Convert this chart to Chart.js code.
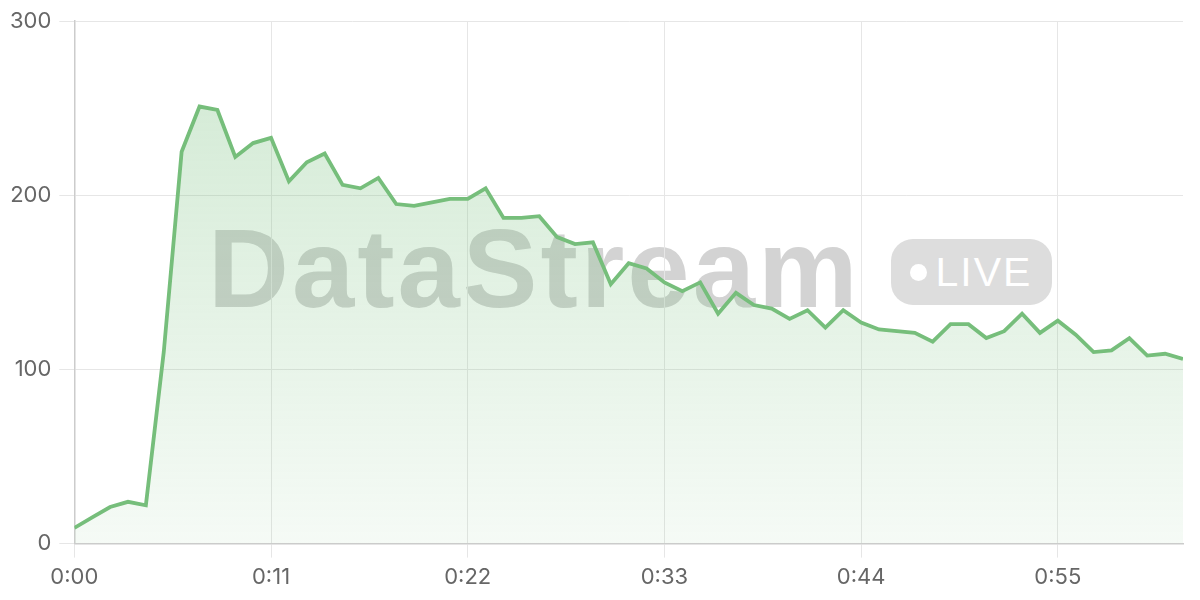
<!DOCTYPE html>
<html lang="en">
<head>
  <meta charset="UTF-8">
  <title>DataStream live</title>
  <script src="https://cdn.jsdelivr.net/npm/chart.js"></script>
  <style>
    html, body {
      margin: 0;
      padding: 0;
      background: #fff;
    }
    #wrap {
      position: relative;
      width: 1200px;
      height: 600px;
    }
    /* watermark sits behind the transparent canvas */
    #mark {
      position: absolute;
      left: 208px;
      top: 204px;
      display: flex;
      align-items: center;
      font-family: "Liberation Sans", Arial, sans-serif;
      pointer-events: none;
    }
    #mark .name {
      font-size: 112px;
      font-weight: bold;
      letter-spacing: 3px;
      color: #d3d3d3;
      line-height: 130px;
    }
    #mark .live {
      margin-left: 30px;
      margin-top: 6px;
      width: 161px;
      height: 66px;
      border-radius: 22px;
      background: #dddddd;
      color: #fff;
      font-size: 41px;
      letter-spacing: 2px;
      display: flex;
      align-items: center;
      justify-content: center;
    }
    #mark .dot {
      width: 17px;
      height: 17px;
      border-radius: 50%;
      background: #fff;
      margin-right: 9px;
    }
    canvas {
      position: relative;
    }
  </style>
</head>
<body>
  <div id="wrap">
    <div id="mark"><span class="name">DataStream</span><span class="live"><span class="dot"></span>LIVE</span></div>
    <canvas id="streamChart" width="1200" height="600"></canvas>
  </div>

  <script>
    // one sample per second, 0:00 .. 1:02
    const values = [
      9, 15, 21, 24, 22, 110, 225, 251, 249, 222,
      230, 233, 208, 219, 224, 206, 204, 210, 195, 194,
      196, 198, 198, 204, 187, 187, 188, 176, 172, 173,
      149, 161, 158, 150, 145, 150, 132, 144, 137, 135,
      129, 134, 124, 134, 127, 123, 122, 121, 116, 126,
      126, 118, 122, 132, 121, 128, 120, 110, 111, 118,
      108, 109, 106
    ];
    const yTicks = [0, 100, 200, 300];
    const tickStep = 11; // seconds between x labels

    const lineColor = 'rgb(118, 190, 123)';

    function fmtTime(sec) {
      const m = Math.floor(sec / 60);
      const s = sec % 60;
      return m + ':' + String(s).padStart(2, '0');
    }

    const ctx = document.getElementById('streamChart').getContext('2d');
    const streamChart = new Chart(ctx, {
      type: 'line',
      data: {
        datasets: [{
          data: values.map((v, i) => ({ x: i, y: v })),
          borderColor: lineColor,
          borderWidth: 3.8,
          pointRadius: 0,
          tension: 0,
          fill: 'origin',
          backgroundColor: function(context) {
            const area = context.chart.chartArea;
            if (!area) return 'rgba(116, 190, 122, 0.2)';
            const g = context.chart.ctx.createLinearGradient(0, area.top, 0, area.bottom);
            g.addColorStop(0, 'rgba(116, 190, 122, 0.34)');
            g.addColorStop(1, 'rgba(116, 190, 122, 0.07)');
            return g;
          }
        }]
      },
      options: {
        responsive: false,
        animation: false,
        layout: {
          padding: { top: 8, right: 17, left: 2, bottom: 2 }
        },
        plugins: {
          legend: { display: false },
          tooltip: { enabled: false }
        },
        scales: {
          x: {
            type: 'linear',
            min: 0,
            max: values.length - 1,
            grid: {
              color: '#e6e6e6',
              tickLength: 14,
              lineWidth: 1
            },
            border: { color: '#cccccc', width: 1.5 },
            ticks: {
              stepSize: tickStep,
              includeBounds: false,
              padding: 7,
              color: '#666',
              font: { family: 'Inter', size: 22 },
              maxRotation: 0,
              callback: v => fmtTime(v)
            }
          },
          y: {
            min: yTicks[0],
            max: yTicks[yTicks.length - 1],
            afterBuildTicks: axis => {
              axis.ticks = yTicks.map(v => ({ value: v }));
            },
            grid: {
              color: '#e6e6e6',
              tickLength: 15
            },
            border: { color: '#cccccc', width: 1.5 },
            ticks: {
              padding: 8,
              color: '#666',
              font: { family: 'Inter', size: 22 }
            }
          }
        }
      }
    });
  </script>
</body>
</html>
